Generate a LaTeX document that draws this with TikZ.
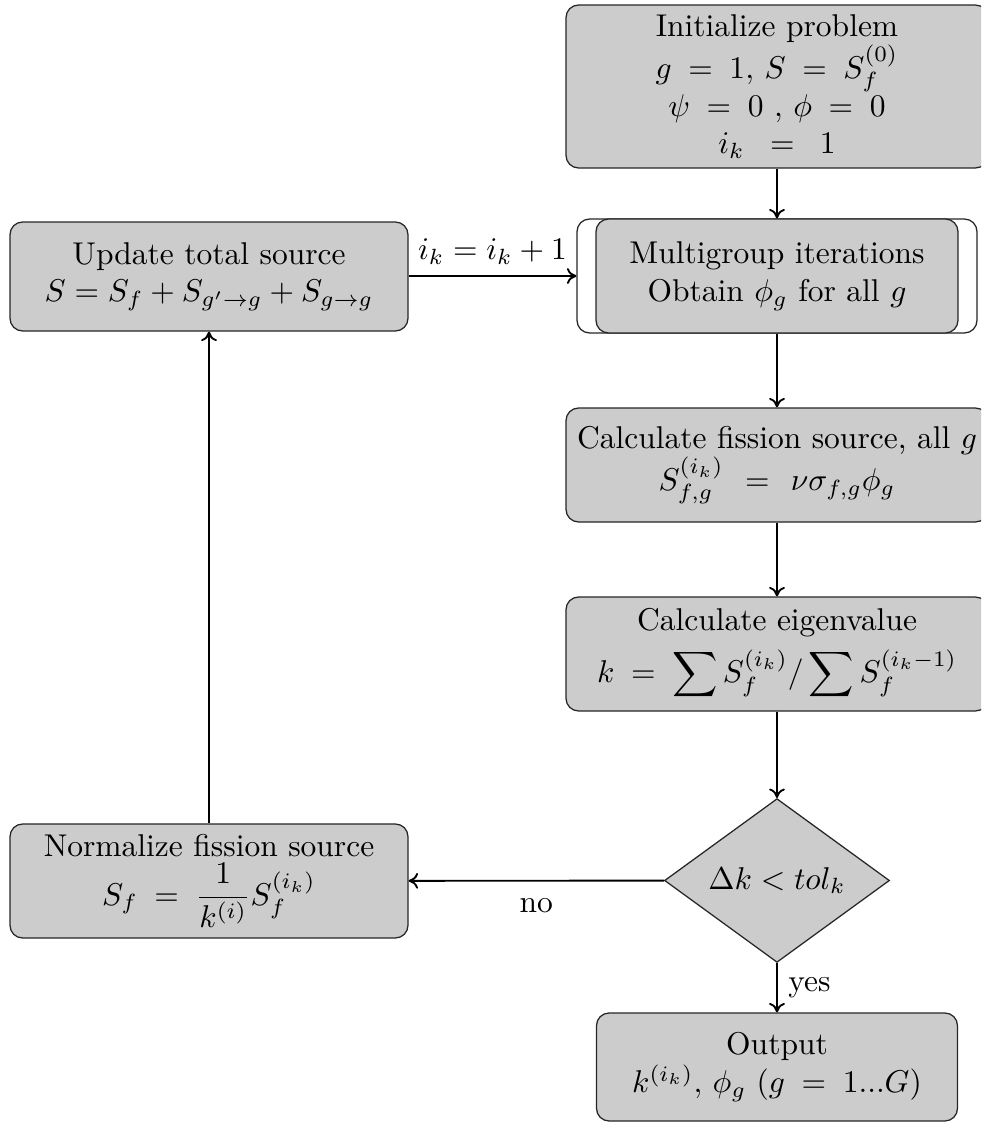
\documentclass[tikz,border=0pt]{standalone}
\usetikzlibrary{shapes.geometric,arrows.meta}
% one drawing unit
\def\pxl{0.3175pt}
% relation with the wide spacing of an aligned equation
\newcommand\eqsp{\mathrel{\kern2.5pt=\kern2.5pt}}
\newcommand\eqwide{\mathrel{\kern4pt=\kern4pt}}
\tikzset{
  boxsize/.style 2 args={minimum width=#1*\pxl, minimum height=#2*\pxl},
  procbox/.style={rectangle, rounded corners=4pt, draw=black!85, fill=gray!40,
    align=center, inner sep=0pt},
  framebox/.style={rectangle, rounded corners=4pt, draw=black!85, fill=white,
    inner sep=0pt},
  decision/.style={diamond, draw=black!85, fill=gray!40, inner sep=0pt},
  flow/.style={-{To[length=3pt,width=5pt]}, semithick},
}
\begin{document}
\begin{tikzpicture}[x=\pxl, y=-\pxl]
\useasboundingbox (0,0) rectangle (981,1125);
\clip (0,0) rectangle (981,1125);

% right-hand column
\node[procbox, boxsize={422}{163}] (init) at (777,86.5)
  {Initialize problem\\
   $g \eqsp 1,\, S \eqsp S_f^{(0)}$\\
   $\psi \eqsp 0\ ,\, \phi \eqsp 0$\\
   $i_k \;\eqsp\; 1$};

\node[framebox, boxsize={400}{114}] (mgout) at (777,276) {};
\node[procbox, boxsize={362}{114}] (mg) at (777,276)
  {Multigroup iterations\\Obtain $\phi_g$ for all $g$};

\node[procbox, boxsize={422}{114}] (fiss) at (777,465)
  {Calculate fission source, all $g$\\
   $S^{(i_k)}_{f,g} \eqwide \nu\sigma_{f,g}\phi_g$};

\node[procbox, boxsize={422}{114}] (eig) at (777,654)
  {Calculate eigenvalue\\[3pt]
   $\displaystyle k \eqsp \sum S_f^{(i_k)} / \sum S_f^{(i_k-1)}$};

\node[decision, boxsize={225}{159}] (conv) at (777,880.5)
  {$\Delta k < tol_k$};

\node[procbox, boxsize={361}{108}] (out) at (777,1067)
  {Output\\
   $k^{(i_k)},\, \phi_g\ (g \eqsp 1...G)$};

% left-hand column
\node[procbox, boxsize={398}{109}] (upd) at (209,276.5)
  {Update total source\\
   $S = S_f + S_{g'\to g} + S_{g\to g}$};

\node[procbox, boxsize={398}{114}] (norm) at (209,881)
  {Normalize fission source\\[1pt]
   $\displaystyle S_f \eqsp \frac{1}{k^{(i)}} S_f^{(i_k)}$};

% connectors
\draw[flow] (init) -- (mg);
\draw[flow] (mg) -- (fiss);
\draw[flow] (fiss) -- (eig);
\draw[flow] (eig) -- (conv);
\draw[flow] (conv) -- node[right] {yes} (out);
\draw[flow] (conv) -- node[below, yshift=-2pt] {no} (norm);
\draw[flow] (norm) -- (upd);
\draw[flow] (upd.east |- mgout.west) -- node[above] {$i_k = i_k + 1$} (mgout.west);
\end{tikzpicture}
\end{document}
